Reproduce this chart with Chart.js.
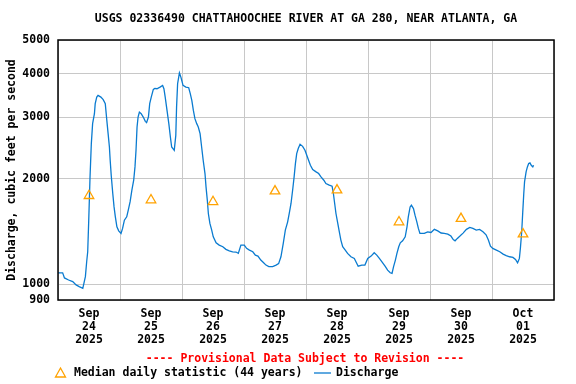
<!DOCTYPE html>
<html>
<head>
<meta charset="utf-8">
<script src="https://cdn.jsdelivr.net/npm/chart.js@4/dist/chart.umd.min.js"></script>
<style>
html,body{margin:0;padding:0;background:#fff;}
canvas{display:block;}
</style>
</head>
<body>
<canvas id="c" width="576" height="384"></canvas>
<script>
// ---- data (hours since 2025-09-24 00:00) ----
const hours = [0,1.8,2.5,4.1,5.7,7.0,8.2,9.6,10.6,11.1,
11.5,11.9,12.4,12.9,13.4,14.1,14.4,15.0,15.5,16.6,
17.5,18.3,18.9,19.4,19.9,20.2,20.6,21.2,21.7,22.2,
22.8,23.5,24.4,25.0,25.7,26.6,27.2,27.9,28.6,29.3,
29.8,30.2,30.6,31.0,31.5,32.2,33.0,33.8,34.3,35.0,
35.5,36.1,36.9,37.5,38.3,39.5,40.5,41.0,41.5,42.2,
42.9,43.5,44.0,45.0,45.6,45.9,46.3,47.0,47.6,48.4,
49.5,50.6,51.2,51.8,52.4,53.0,53.7,54.3,55.0,55.6,
56.2,56.9,57.3,57.8,58.2,58.8,59.5,60.1,61.2,62.4,
63.8,65.0,66.3,67.6,68.9,69.8,70.8,72.1,73.0,74.1,
75.4,76.4,77.4,78.5,79.5,80.5,81.6,83.1,84.4,85.4,
86.3,87.2,88.0,88.9,89.5,90.2,90.9,91.4,91.9,92.4,
93.0,93.7,94.7,95.6,96.3,97.0,97.7,98.6,99.9,100.9,
101.8,102.9,103.7,105.0,106.1,106.6,107.1,107.6,108.3,108.9,
109.5,110.2,111.2,112.1,113.4,114.7,116.2,117.6,118.8,119.9,
121.2,122.4,123.4,124.4,125.4,126.6,127.6,128.6,129.3,129.9,
130.6,131.2,131.9,132.5,133.4,134.4,135.1,135.6,136.3,136.8,
137.6,138.2,138.9,139.5,140.1,141.8,143.1,144.4,145.7,147.0,
148.3,149.5,150.9,152.1,153.0,153.7,154.6,155.6,156.8,158.1,
159.4,160.6,161.9,163.2,164.5,165.7,166.6,167.4,168.3,169.7,
171.0,172.3,173.5,174.8,176.1,177.1,177.9,178.6,179.0,179.5,
179.9,180.3,180.6,181.2,181.7,182.2,182.7,183.2,183.8,184.1];

const discharge = [1077,1077,1041,1027,1016,994,983,972,1050,1158,
1237,1524,2027,2525,2880,3075,3285,3431,3469,3431,
3373,3285,2943,2696,2469,2262,2049,1817,1663,1558,
1458,1420,1396,1443,1524,1558,1627,1719,1857,1983,
2165,2416,2817,3008,3108,3075,3008,2924,2899,3008,
3285,3431,3610,3633,3625,3665,3706,3625,3431,3143,
2880,2637,2469,2416,2666,3212,3748,4023,3907,3706,
3665,3650,3509,3357,3143,2976,2880,2817,2696,2469,
2262,2072,1898,1738,1592,1491,1427,1365,1312,1293,
1279,1257,1245,1237,1235,1224,1293,1293,1265,1251,
1237,1210,1202,1171,1153,1133,1122,1122,1133,1144,
1197,1307,1427,1507,1592,1701,1878,2027,2213,2364,
2443,2513,2480,2416,2338,2262,2189,2128,2095,2072,
2027,1983,1940,1919,1906,1817,1701,1592,1491,1411,
1336,1279,1251,1224,1197,1184,1125,1133,1133,1184,
1202,1229,1210,1184,1158,1126,1096,1077,1073,1122,
1171,1224,1279,1312,1330,1365,1458,1558,1663,1682,
1645,1575,1507,1443,1396,1396,1411,1405,1434,1420,
1400,1396,1390,1372,1341,1330,1351,1372,1399,1434,
1453,1443,1427,1434,1411,1383,1336,1284,1265,1251,
1237,1218,1206,1197,1192,1176,1150,1184,1268,1411,
1606,1817,1961,2095,2165,2213,2222,2189,2165,2189];

const medianHours = [12,36,60,84,108,132,156,180];
const medianValues = [1790,1740,1720,1845,1858,1505,1540,1390];

const tickMonths = ['Sep','Sep','Sep','Sep','Sep','Sep','Sep','Oct'];
const tickDays = ['24','25','26','27','28','29','30','01'];
const tickYear = '2025';
const yTickValues = [900,1000,2000,3000,4000,5000];

const titleText = 'USGS 02336490 CHATTAHOOCHEE RIVER AT GA 280, NEAR ATLANTA, GA';
const yTitle = 'Discharge, cubic feet per second';
const provisionalText = '---- Provisional Data Subject to Revision ----';
const medianLabel = 'Median daily statistic (44 years)';
const dischargeLabel = 'Discharge';

// ---- style ----
const FONT_FAMILY = '"DejaVu Sans Mono", "Liberation Mono", monospace';
const tickFont = {family: FONT_FAMILY, size: 11.5, weight: 'bold', lineHeight: 1.13};
const BLUE = '#0a7bd0';
const ORANGE = '#ffa200';
const GRID = '#c8c8c8';

const extras = {
  id: 'extras',
  afterDraw(chart) {
    const ctx = chart.ctx;
    const a = chart.chartArea;
    ctx.save();
    // frame
    ctx.strokeStyle = '#000';
    ctx.lineWidth = 1.5;
    ctx.strokeRect(a.left, a.top, a.right - a.left, a.bottom - a.top);
    // title
    ctx.font = 'bold 11.5px ' + FONT_FAMILY;
    ctx.fillStyle = '#000';
    ctx.textAlign = 'center';
    ctx.textBaseline = 'middle';
    ctx.fillText(titleText, 306, 19);
    // provisional
    ctx.fillStyle = '#ff0000';
    ctx.fillText(provisionalText, 305, 359);
    // legend
    const ly = 373;
    ctx.textAlign = 'left';
    ctx.fillStyle = '#000';
    ctx.strokeStyle = ORANGE;
    ctx.lineWidth = 1.3;
    ctx.beginPath();
    ctx.moveTo(60.5, ly - 5);
    ctx.lineTo(65.5, ly + 4);
    ctx.lineTo(55.5, ly + 4);
    ctx.closePath();
    ctx.stroke();
    ctx.fillText(medianLabel, 74, ly);
    ctx.strokeStyle = BLUE;
    ctx.lineWidth = 1.3;
    ctx.beginPath();
    ctx.moveTo(314, ly);
    ctx.lineTo(331, ly);
    ctx.stroke();
    ctx.fillText(dischargeLabel, 336, ly);
    ctx.restore();
  }
};

new Chart(document.getElementById('c'), {
  type: 'line',
  data: {
    datasets: [
      {
        label: medianLabel,
        data: medianHours.map((h, i) => ({x: h, y: medianValues[i]})),
        showLine: false,
        pointStyle: 'triangle',
        pointRadius: 5.5,
        pointBorderWidth: 1.3,
        borderColor: ORANGE,
        pointBorderColor: ORANGE,
        backgroundColor: 'rgba(0,0,0,0)',
        pointBackgroundColor: 'rgba(0,0,0,0)',
        order: 0
      },
      {
        label: dischargeLabel,
        data: hours.map((h, i) => ({x: h, y: discharge[i]})),
        borderColor: BLUE,
        borderWidth: 1.3,
        pointRadius: 0,
        tension: 0,
        fill: false,
        order: 1
      }
    ]
  },
  options: {
    responsive: false,
    animation: false,
    events: [],
    layout: {padding: {top: 40, right: 22, left: 0, bottom: 0}},
    plugins: {legend: {display: false}, tooltip: {enabled: false}, title: {display: false}},
    scales: {
      x: {
        type: 'linear',
        min: 0,
        max: 192,
        afterBuildTicks: (axis) => {
          const t = [];
          for (let h = 0; h <= 192; h += 12) t.push({value: h});
          axis.ticks = t;
        },
        ticks: {
          autoSkip: false,
          maxRotation: 0,
          minRotation: 0,
          padding: 8,
          color: '#000',
          font: tickFont,
          callback: (v) => {
            if (v % 24 === 12) {
              const i = (v - 12) / 24;
              return [tickMonths[i], tickDays[i], tickYear];
            }
            return '';
          }
        },
        grid: {
          color: (c) => (c.tick && c.tick.value % 24 === 0) ? GRID : 'rgba(0,0,0,0)',
          lineWidth: 1,
          drawTicks: false
        },
        border: {display: false},
        afterFit: (s) => { s.height = 84; }
      },
      y: {
        type: 'logarithmic',
        min: 900,
        max: 5000,
        afterBuildTicks: (axis) => {
          axis.ticks = yTickValues.map(v => ({value: v}));
        },
        ticks: {
          padding: 8,
          color: '#000',
          font: tickFont,
          callback: (v) => String(v)
        },
        grid: {color: GRID, lineWidth: 1, drawTicks: false},
        border: {display: false},
        title: {
          display: true,
          text: yTitle,
          color: '#000',
          font: {family: FONT_FAMILY, size: 11.5, weight: 'bold'},
          padding: {top: 5, bottom: 0}
        },
        afterFit: (s) => { s.width = 58; }
      }
    }
  },
  plugins: [extras]
});
</script>
</body>
</html>
